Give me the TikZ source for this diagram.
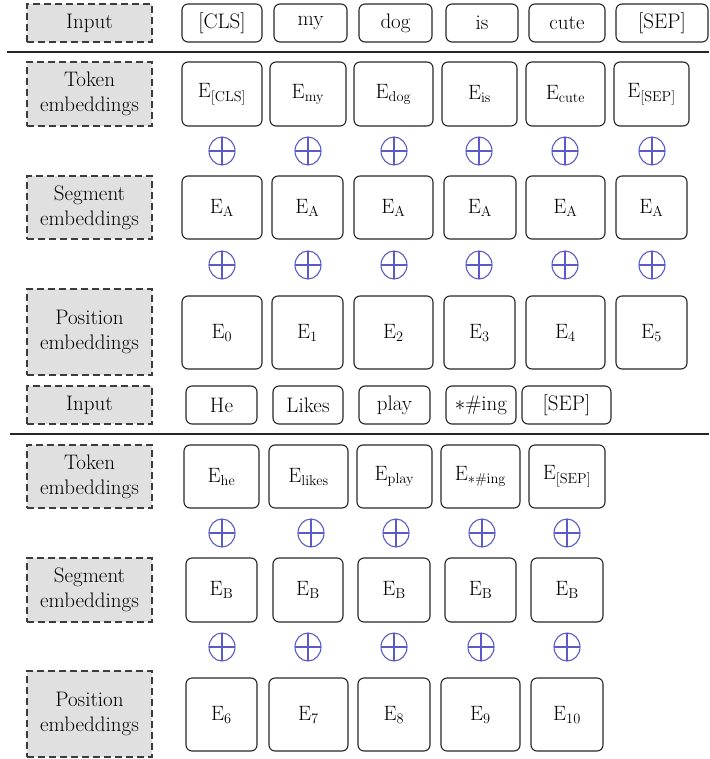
\documentclass[tikz,border=0pt]{standalone}
\usepackage{tikz}
\usetikzlibrary{shapes, arrows.meta, positioning, calc}
\definecolor{labelgray}{RGB}{224, 224, 224}
\definecolor{dashgray}{RGB}{60, 60, 60}
\definecolor{plusblue}{RGB}{90, 90, 200}
\newcommand{\Emb}[1]{$\mathrm{E}_{#1}$}

\begin{document}
\begin{tikzpicture}[x=1pt, y=-1pt,
			lab/.style={rectangle, draw=dashgray, fill=labelgray, dash pattern=on 7pt off 4pt,
				line width=1.2pt, minimum width=125pt, inner sep=0pt, align=center,
				font=\fontsize{21}{25}\selectfont},
			box/.style={rectangle, rounded corners=6pt, draw=black!85, line width=1.1pt,
				inner sep=0pt, align=center, font=\fontsize{21}{25}\selectfont},
			rowin/.style={box, minimum height=38pt},
			rowtok/.style={box, minimum height=64pt},
			rowpos/.style={box, minimum height=73pt},
			addnode/.style={ellipse, draw=plusblue, line width=1.1pt, minimum width=26pt,
				minimum height=28pt, inner sep=0pt,
				path picture={\draw[plusblue, line width=1.1pt]
					(path picture bounding box.north) -- (path picture bounding box.south)
					(path picture bounding box.west) -- (path picture bounding box.east);}},
			rule/.style={draw=black!85, line width=1.1pt}
			]
			\useasboundingbox (0,0) rectangle (709,759);

			% first sentence
			\node[lab, minimum height=38pt] (labInA)  at (89.5,23)  {Input};
			\node[rowin, minimum width=80pt] (inCls)  at (222,23)   {[CLS]};
			\node[rowin, minimum width=73pt] (inMy)   at (310.5,23) {my};
			\node[rowin, minimum width=73pt] (inDog)  at (395.5,23) {dog};
			\node[rowin, minimum width=72pt] (inIs)   at (482,23)   {is};
			\node[rowin, minimum width=76pt] (inCute) at (567,23)   {cute};
			\node[rowin, minimum width=92pt] (inSepA) at (662,23)   {[SEP]};

			\coordinate (ruleAl) at (7,52);
			\coordinate (ruleAr) at (709,52);
			\draw[rule] (ruleAl) -- (ruleAr);

			\node[lab, minimum height=64pt] (labTokA) at (89.5,94) {Token\\embeddings};
			\node[rowtok, minimum width=80pt] (tokCls)  at (222,94)   {\Emb{\mathrm{[CLS]}}};
			\node[rowtok, minimum width=76pt] (tokMy)   at (308,94)   {\Emb{\mathrm{my}}};
			\node[rowtok, minimum width=79pt] (tokDog)  at (393.5,94) {\Emb{\mathrm{dog}}};
			\node[rowtok, minimum width=75pt] (tokIs)   at (479.5,94) {\Emb{\mathrm{is}}};
			\node[rowtok, minimum width=79pt] (tokCute) at (565.5,94) {\Emb{\mathrm{cute}}};
			\node[rowtok, minimum width=75pt] (tokSepA) at (651.5,94) {\Emb{\mathrm{[SEP]}}};

			\node[addnode] (addA1) at (222,151) {};
			\node[addnode] (addA2) at (308,151) {};
			\node[addnode] (addA3) at (394,151) {};
			\node[addnode] (addA4) at (479,151) {};
			\node[addnode] (addA5) at (565,151) {};
			\node[addnode] (addA6) at (652,151) {};

			\node[lab, minimum height=63pt] (labSegA) at (89.5,207.5) {Segment\\embeddings};
			\node[box, minimum height=63pt, minimum width=80pt] (segA1) at (222,207.5)   {\Emb{\mathrm{A}}};
			\node[box, minimum height=63pt, minimum width=71pt] (segA2) at (307.5,207.5) {\Emb{\mathrm{A}}};
			\node[box, minimum height=63pt, minimum width=79pt] (segA3) at (393.5,207.5) {\Emb{\mathrm{A}}};
			\node[box, minimum height=63pt, minimum width=72pt] (segA4) at (480,207.5)   {\Emb{\mathrm{A}}};
			\node[box, minimum height=63pt, minimum width=79pt] (segA5) at (565.5,207.5) {\Emb{\mathrm{A}}};
			\node[box, minimum height=63pt, minimum width=71pt] (segA6) at (651.5,207.5) {\Emb{\mathrm{A}}};

			\node[addnode] (addB1) at (222,265) {};
			\node[addnode] (addB2) at (308,265) {};
			\node[addnode] (addB3) at (394,265) {};
			\node[addnode] (addB4) at (479,265) {};
			\node[addnode] (addB5) at (565,265) {};
			\node[addnode] (addB6) at (652,265) {};

			\node[lab, minimum height=86pt] (labPosA) at (89.5,332) {Position\\embeddings};
			\node[rowpos, minimum width=80pt] (pos0) at (222,332.5)   {\Emb{0}};
			\node[rowpos, minimum width=71pt] (pos1) at (307.5,332.5) {\Emb{1}};
			\node[rowpos, minimum width=79pt] (pos2) at (393.5,332.5) {\Emb{2}};
			\node[rowpos, minimum width=71pt] (pos3) at (479.5,332.5) {\Emb{3}};
			\node[rowpos, minimum width=79pt] (pos4) at (565.5,332.5) {\Emb{4}};
			\node[rowpos, minimum width=71pt] (pos5) at (651.5,332.5) {\Emb{5}};

			% second sentence
			\node[lab, minimum height=38pt] (labInB)  at (89.5,405) {Input};
			\node[rowin, minimum width=71pt] (inHe)    at (221.5,405) {He};
			\node[rowin, minimum width=70pt] (inLikes) at (308,405)   {Likes};
			\node[rowin, minimum width=71pt] (inPlay)  at (394.5,405) {play};
			\node[rowin, minimum width=70pt] (inIng)   at (481,405)   {$\ast$\#ing};
			\node[rowin, minimum width=89pt] (inSepB)  at (566.5,405) {[SEP]};

			\coordinate (ruleBl) at (10,434);
			\coordinate (ruleBr) at (709,434);
			\draw[rule] (ruleBl) -- (ruleBr);

			\node[lab, minimum height=63pt] (labTokB) at (89.5,476.5) {Token\\embeddings};
			\node[box, minimum height=63pt, minimum width=75pt] (tokHe)    at (221.5,476.5) {\Emb{\mathrm{he}}};
			\node[box, minimum height=63pt, minimum width=79pt] (tokLikes) at (308.5,476.5) {\Emb{\mathrm{likes}}};
			\node[box, minimum height=63pt, minimum width=75pt] (tokPlay)  at (394.5,476.5) {\Emb{\mathrm{play}}};
			\node[box, minimum height=63pt, minimum width=79pt] (tokIng)   at (480.5,476.5) {\Emb{\ast\mathrm{\#ing}}};
			\node[box, minimum height=63pt, minimum width=76pt] (tokSepB)  at (567,476.5)   {\Emb{\mathrm{[SEP]}}};

			\node[addnode] (addC1) at (222,533) {};
			\node[addnode] (addC2) at (311,533) {};
			\node[addnode] (addC3) at (396,533) {};
			\node[addnode] (addC4) at (482,533) {};
			\node[addnode] (addC5) at (567,533) {};

			\node[lab, minimum height=64pt] (labSegB) at (89.5,590) {Segment\\embeddings};
			\node[rowtok, minimum width=71pt] (segB1) at (221.5,590) {\Emb{\mathrm{B}}};
			\node[rowtok, minimum width=70pt] (segB2) at (308,590)   {\Emb{\mathrm{B}}};
			\node[rowtok, minimum width=72pt] (segB3) at (394,590)   {\Emb{\mathrm{B}}};
			\node[rowtok, minimum width=71pt] (segB4) at (480.5,590) {\Emb{\mathrm{B}}};
			\node[rowtok, minimum width=72pt] (segB5) at (567,590)   {\Emb{\mathrm{B}}};

			\node[addnode] (addD1) at (222,647) {};
			\node[addnode] (addD2) at (308,647) {};
			\node[addnode] (addD3) at (394,647) {};
			\node[addnode] (addD4) at (481,647) {};
			\node[addnode] (addD5) at (567,647) {};

			\node[lab, minimum height=86pt] (labPosB) at (89.5,714) {Position\\embeddings};
			\node[rowpos, minimum width=71pt] (pos6)  at (221.5,714.5) {\Emb{6}};
			\node[rowpos, minimum width=79pt] (pos7)  at (308.5,714.5) {\Emb{7}};
			\node[rowpos, minimum width=72pt] (pos8)  at (394,714.5)   {\Emb{8}};
			\node[rowpos, minimum width=79pt] (pos9)  at (480.5,714.5) {\Emb{9}};
			\node[rowpos, minimum width=72pt] (pos10) at (567,714.5)   {\Emb{10}};
		\end{tikzpicture}
\end{document}
